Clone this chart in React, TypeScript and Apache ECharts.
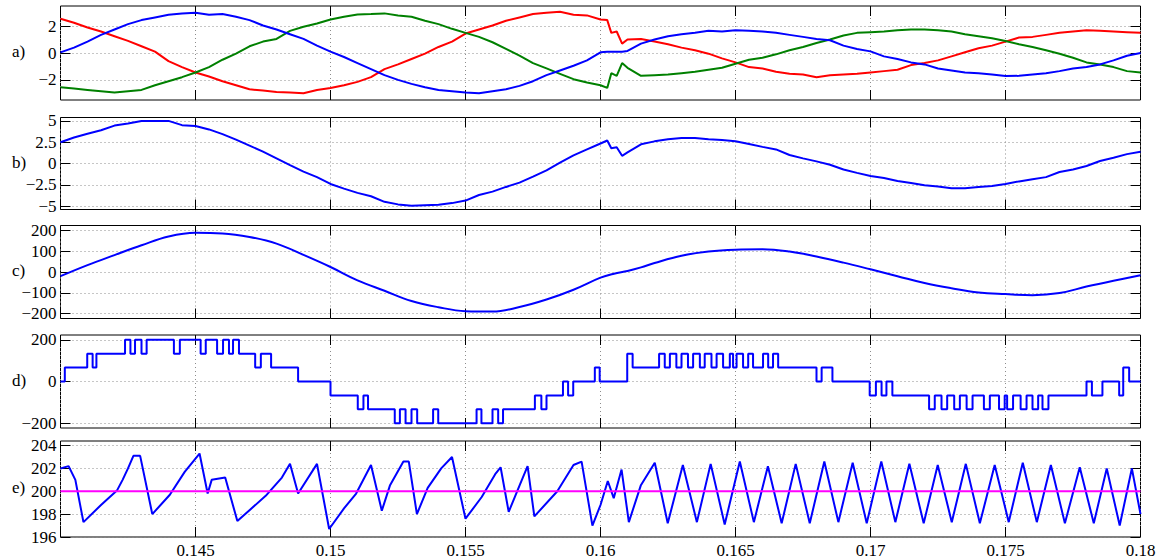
import React, { useEffect, useRef } from "react";
import * as echarts from "echarts";

const FONT = "Liberation Serif";

// ---------- data (time in ms) ----------
const tA = [
  140, 140.5, 141, 141.5, 142, 142.5, 143, 143.5, 144, 144.5, 145, 145.5, 146, 146.5, 147, 147.5, 148, 148.5, 149, 149.5,
  150, 150.5, 151, 151.5, 152, 152.5, 153, 153.5, 154, 154.5, 155, 155.5, 156, 156.5, 157, 157.5, 158, 158.5, 159, 159.5,
  160, 160.25, 160.4, 160.6, 160.8,
  161, 161.5, 162, 162.5, 163, 163.5, 164, 164.5, 165, 165.5, 166, 166.5, 167, 167.5, 168, 168.5, 169, 169.5,
  170, 170.5, 171, 171.5, 172, 172.5, 173, 173.5, 174, 174.5, 175, 175.5, 176, 176.5, 177, 177.5, 178, 178.5, 179, 179.5, 180,
];
const aRed = [
  2.55, 2.25, 1.9, 1.6, 1.25, 0.9, 0.5, 0.1, -0.6, -1.05, -1.45, -1.75, -2.1, -2.4, -2.7, -2.8, -2.9, -2.95, -3.0, -2.75,
  -2.6, -2.4, -2.15, -1.8, -1.2, -0.85, -0.45, -0.05, 0.45, 0.85, 1.45, 1.75, 2.05, 2.4, 2.65, 2.9, 3.0, 3.07, 2.85, 2.8,
  2.5, 2.45, 1.5, 1.6, 0.7,
  1.0, 1.05, 0.85, 0.65, 0.4, 0.2, -0.05, -0.4, -0.7, -1.05, -1.15, -1.4, -1.55, -1.6, -1.8, -1.65, -1.6, -1.55,
  -1.45, -1.35, -1.25, -0.9, -0.75, -0.55, -0.25, 0.05, 0.35, 0.55, 0.85, 1.15, 1.2, 1.35, 1.5, 1.6, 1.7, 1.65, 1.6, 1.55, 1.5,
];
const aGreen = [
  -2.55, -2.65, -2.75, -2.85, -2.95, -2.85, -2.75, -2.4, -2.1, -1.8, -1.45, -1.05, -0.5, -0.05, 0.5, 0.85, 1.05, 1.65, 1.95, 2.2,
  2.5, 2.7, 2.87, 2.9, 2.95, 2.8, 2.7, 2.4, 2.15, 1.8, 1.5, 1.2, 0.8, 0.3, -0.2, -0.75, -1.15, -1.55, -1.95, -2.2,
  -2.4, -2.6, -1.5, -1.7, -0.75,
  -1.1, -1.7, -1.65, -1.6, -1.5, -1.4, -1.25, -1.1, -0.8, -0.5, -0.35, -0.1, 0.2, 0.45, 0.75, 1.0, 1.3, 1.5,
  1.55, 1.6, 1.7, 1.75, 1.75, 1.7, 1.6, 1.4, 1.25, 1.1, 0.9, 0.65, 0.45, 0.2, -0.05, -0.35, -0.7, -0.85, -1.05, -1.35, -1.45,
];
const aBlue = [
  0.05, 0.4, 0.85, 1.35, 1.75, 2.15, 2.45, 2.65, 2.85, 2.95, 3.0, 2.85, 2.9, 2.7, 2.45, 2.05, 1.75, 1.4, 1.05, 0.55,
  0.1, -0.3, -0.75, -1.2, -1.65, -2.0, -2.3, -2.55, -2.75, -2.85, -2.95, -3.0, -2.85, -2.7, -2.45, -2.1, -1.65, -1.3, -0.95, -0.55,
  0.05, 0.1, 0.1, 0.1, 0.1,
  0.15, 0.7, 1.0, 1.25, 1.4, 1.5, 1.65, 1.6, 1.7, 1.65, 1.6, 1.5, 1.35, 1.2, 1.05, 0.95, 0.55, 0.3,
  0.12, -0.25, -0.45, -0.7, -0.85, -1.15, -1.3, -1.45, -1.5, -1.6, -1.72, -1.7, -1.6, -1.5, -1.35, -1.15, -1.05, -0.85, -0.55, -0.2, 0.0,
];
const bValues = [
  2.5, 3.05, 3.5, 3.9, 4.45, 4.7, 5.0, 5.0, 5.0, 4.5, 4.4, 4.0, 3.45, 2.8, 2.1, 1.4, 0.6, -0.2, -0.95, -1.6,
  -2.4, -2.95, -3.45, -3.85, -4.5, -4.8, -4.95, -4.9, -4.85, -4.65, -4.35, -3.7, -3.3, -2.75, -2.25, -1.55, -0.8, 0.1, 0.95, 1.65,
  2.35, 2.7, 1.8, 1.9, 0.9,
  1.3, 2.25, 2.6, 2.85, 3.0, 3.0, 2.85, 2.75, 2.6, 2.3, 1.95, 1.65, 1.0, 0.6, 0.25, -0.15, -0.7, -1.1,
  -1.47, -1.7, -2.05, -2.3, -2.55, -2.7, -2.9, -2.9, -2.75, -2.65, -2.4, -2.1, -1.85, -1.6, -1.0, -0.7, -0.3, 0.3, 0.68, 1.1, 1.38,
];
const tC = [
  140, 141, 142, 143, 144, 145, 146, 147, 148, 149, 150, 151, 152, 153, 154, 155, 156, 157, 158, 159, 160,
  160.5, 161, 161.5,
  162, 163, 164, 165, 166, 167, 168, 169, 170, 171, 172, 173, 174, 175, 176, 177, 178, 179, 180,
];
const cValues = [
  -20, 33, 81, 128, 170, 188, 185, 168, 136, 82, 24, -40, -90, -139, -169, -188, -190, -168, -132, -85, -27,
  -8, 5, 22,
  43, 78, 98, 107, 109, 98, 74, 45, 13, -20, -53, -78, -98, -106, -111, -101, -70, -42, -16,
];
// step changes: value holds from this time until the next one
const tD = [
  140.0, 140.16, 140.99, 141.19, 141.33, 142.39, 142.59, 142.76, 143.0, 143.19, 144.2, 144.42, 145.19, 145.38, 145.8, 146.02,
  146.24, 146.39, 146.61, 147.21, 147.42, 147.8, 148.8, 150.0, 151.01, 151.22, 151.39, 152.38, 152.57, 152.78, 153.0, 153.21,
  153.8, 153.99, 155.41, 155.59, 156.0, 156.21, 156.39, 157.57, 157.81, 158.0, 158.61, 158.8, 158.99, 159.79, 159.97, 160.99,
  161.19, 162.17, 162.38, 162.57, 162.81, 163.0, 163.24, 163.43, 163.68, 163.86, 164.11, 164.3, 164.54, 164.79, 164.91, 165.04,
  165.28, 165.47, 165.65, 166.02, 166.21, 166.39, 166.58, 168.0, 168.19, 168.59, 169.97, 170.2, 170.41, 170.59, 170.81, 172.17,
  172.38, 172.63, 172.84, 173.1, 173.31, 173.56, 173.78, 174.2, 174.42, 174.76, 174.97, 175.06, 175.28, 175.56, 175.78, 176.0,
  176.21, 176.37, 176.59, 178.0, 178.2, 178.59, 179.21, 179.36, 179.58, 180.0,
];
const dValues = [
  0, 66.7, 133.3, 66.7, 133.3, 200, 133.3, 200, 133.3, 200, 133.3, 200, 133.3, 200, 133.3, 200,
  133.3, 200, 133.3, 66.7, 133.3, 66.7, 0, -66.7, -133.3, -66.7, -133.3, -200, -133.3, -200, -133.3, -200,
  -133.3, -200, -133.3, -200, -133.3, -200, -133.3, -66.7, -133.3, -66.7, 0, -66.7, 0, 66.7, 0, 133.3,
  66.7, 133.3, 66.7, 133.3, 66.7, 133.3, 66.7, 133.3, 66.7, 133.3, 66.7, 133.3, 66.7, 133.3, 66.7, 133.3,
  66.7, 133.3, 66.7, 133.3, 66.7, 133.3, 66.7, 0, 66.7, 0, -66.7, 0, -66.7, 0, -66.7, -133.3,
  -66.7, -133.3, -66.7, -133.3, -66.7, -133.3, -66.7, -133.3, -66.7, -133.3, -66.7, -133.3, -66.7, -133.3, -66.7, -133.3,
  -66.7, -133.3, -66.7, 0, -66.7, 0, -66.7, 66.7, 0, 0,
];
const tE = [
  140.0, 140.3, 140.55, 140.85, 141.5, 142.1, 142.3, 142.5, 142.7, 142.95, 143.4, 144.05, 144.6, 145.15, 145.45, 145.6,
  146.1, 146.55, 147.6, 148.2, 148.5, 148.8, 149.5, 149.95, 150.5, 150.95, 151.5, 151.9, 152.2, 152.7, 152.9, 153.2,
  153.6, 154.1, 154.5, 155.0, 155.6, 156.1, 156.3, 156.6, 157.0, 157.3, 157.55, 158.4, 159.0, 159.3, 159.7, 160.0,
  160.27, 160.49, 160.78, 161.05, 161.49, 162.01, 162.49, 163.05, 163.57, 164.08, 164.6, 165.16, 165.68, 166.2, 166.71, 167.23,
  167.75, 168.29, 168.81, 169.34, 169.86, 170.4, 170.92, 171.44, 171.97, 172.49, 173.01, 173.53, 174.05, 174.6, 175.12, 175.64,
  176.16, 176.68, 177.2, 177.75, 178.27, 178.75, 179.23, 179.68, 180.0,
];
const eValues = [
  202.0, 202.2, 201.0, 197.3, 198.8, 200.1, 201.0, 202.0, 203.1, 203.1, 198.0, 199.7, 201.7, 203.3, 199.8, 201.0,
  201.2, 197.4, 199.6, 201.2, 202.4, 199.8, 202.4, 196.7, 198.5, 199.8, 202.3, 198.3, 200.5, 202.6, 202.6, 198.0,
  200.3, 202.0, 203.0, 197.6, 199.5, 201.5, 202.1, 198.2, 200.5, 202.2, 197.8, 200.0, 202.3, 202.6, 197.0, 198.8,
  200.9, 199.4, 201.9, 197.3, 200.5, 202.5, 197.2, 202.3, 197.3, 202.4, 197.1, 202.6, 197.3, 202.2, 197.2, 202.4,
  197.2, 202.6, 197.3, 202.5, 197.2, 202.6, 197.3, 202.4, 197.2, 202.3, 197.3, 202.4, 197.2, 202.3, 197.3, 202.5,
  197.3, 202.3, 197.2, 202.1, 197.2, 202.0, 197.0, 202.0, 198.0,
];
const tRef = [140, 180];
const eRef = [200, 200];

const panelLabels = ["a)", "b)", "c)", "d)", "e)"];
const yTicks = [
  [-2, 0, 2],
  [-5, -2.5, 0, 2.5, 5],
  [-200, -100, 0, 100, 200],
  [-200, 0, 200],
  [196, 198, 200, 202, 204],
];
const yRanges = [
  [-3.5, 3.5],
  [-5.4, 5.4],
  [-223, 223],
  [-223, 223],
  [196, 204.4],
];
const xTickLabels = ["0.145", "0.15", "0.155", "0.16", "0.165", "0.17", "0.175", "0.18"];

// ---------- layout ----------
const LEFT = 60.5;
const WIDTH = 1080;
const tops = [6, 117.5, 225.5, 335, 441];
const heights = [94, 92, 93, 93, 96];

const pairs = (t: number[], v: number[]) => t.map((x, i) => [x / 1000, v[i]]);
const minus = (s: string) => s.replace("-", "\u2212");

export default function App() {
  const ref = useRef<HTMLDivElement>(null);
  useEffect(() => {
    if (!ref.current) return;
    const chart = echarts.init(ref.current, null, { renderer: "svg" });
    const grid: any[] = [];
    const xAxis: any[] = [];
    const yAxis: any[] = [];
    const dotted = { color: "#8c8c8c", width: 1, type: [1, 3] as any };
    const tick = { show: true, inside: true, length: 10, lineStyle: { color: "#000", width: 1 } };
    for (let i = 0; i < 5; i++) {
      grid.push({
        left: LEFT, width: WIDTH, top: tops[i], height: heights[i],
        show: true, borderColor: "#000", borderWidth: 1, backgroundColor: "transparent",
      });
      const isLast = i === 4;
      xAxis.push({
        type: "value", gridIndex: i, position: "bottom", min: 0.14, max: 0.18, interval: 0.005,
        axisLine: { show: false, onZero: false },
        axisTick: tick,
        axisLabel: {
          show: isLast, margin: 5, fontFamily: FONT, fontSize: 17, color: "#000",
          formatter: (v: number) => {
            const s = String(+v.toFixed(3));
            return xTickLabels.includes(s) ? s : "";
          },
        },
        splitLine: { show: true, lineStyle: dotted },
      });
      xAxis.push({
        type: "value", gridIndex: i, position: "top", min: 0.14, max: 0.18, interval: 0.005,
        axisLine: { show: false, onZero: false },
        axisTick: tick,
        axisLabel: { show: false },
        splitLine: { show: false },
      });
      yAxis.push({
        type: "value", gridIndex: i, position: "left", min: yRanges[i][0], max: yRanges[i][1],
        axisLine: { show: false, onZero: false },
        axisTick: { ...tick, customValues: yTicks[i] },
        axisLabel: {
          show: true, margin: 4, fontFamily: FONT, fontSize: 17, color: "#000",
          customValues: yTicks[i], formatter: (v: number) => minus(String(v)),
        },
        splitLine: { show: true, lineStyle: dotted },
      });
      yAxis.push({
        type: "value", gridIndex: i, position: "right", min: yRanges[i][0], max: yRanges[i][1],
        axisLine: { show: false, onZero: false },
        axisTick: { ...tick, customValues: yTicks[i] },
        axisLabel: { show: false },
        splitLine: { show: false },
      });
    }
    const line = (gi: number, data: number[][], color: string, extra: any = {}) => ({
      type: "line", xAxisIndex: gi * 2, yAxisIndex: gi * 2, data, showSymbol: false, symbol: "none",
      lineStyle: { color, width: 2 }, itemStyle: { color }, clip: true, silent: true, ...extra,
    });
    const series = [
      line(0, pairs(tA, aRed), "#ff0000"),
      line(0, pairs(tA, aGreen), "#008000"),
      line(0, pairs(tA, aBlue), "#0000ff"),
      line(1, pairs(tA, bValues), "#0000ff"),
      line(2, pairs(tC, cValues), "#0000ff", { smooth: 0.4 }),
      line(3, pairs(tD, dValues), "#0000ff", { step: "end" }),
      line(4, pairs(tE, eValues), "#0000ff"),
      line(4, pairs(tRef, eRef), "#ff00ff"),
    ];
    const graphic = panelLabels.map((lab, i) => ({
      type: "text", left: 12, top: tops[i] + heights[i] / 2 - 10,
      style: { text: lab, fontFamily: FONT, fontSize: 17, fill: "#000" },
    }));
    chart.setOption({
      animation: false,
      backgroundColor: "#fff",
      grid, xAxis, yAxis, series, graphic,
    });
    return () => chart.dispose();
  }, []);
  return <div ref={ref} style={{ position: "absolute", left: 0, top: 0, width: 1163, height: 559 }} />;
}
